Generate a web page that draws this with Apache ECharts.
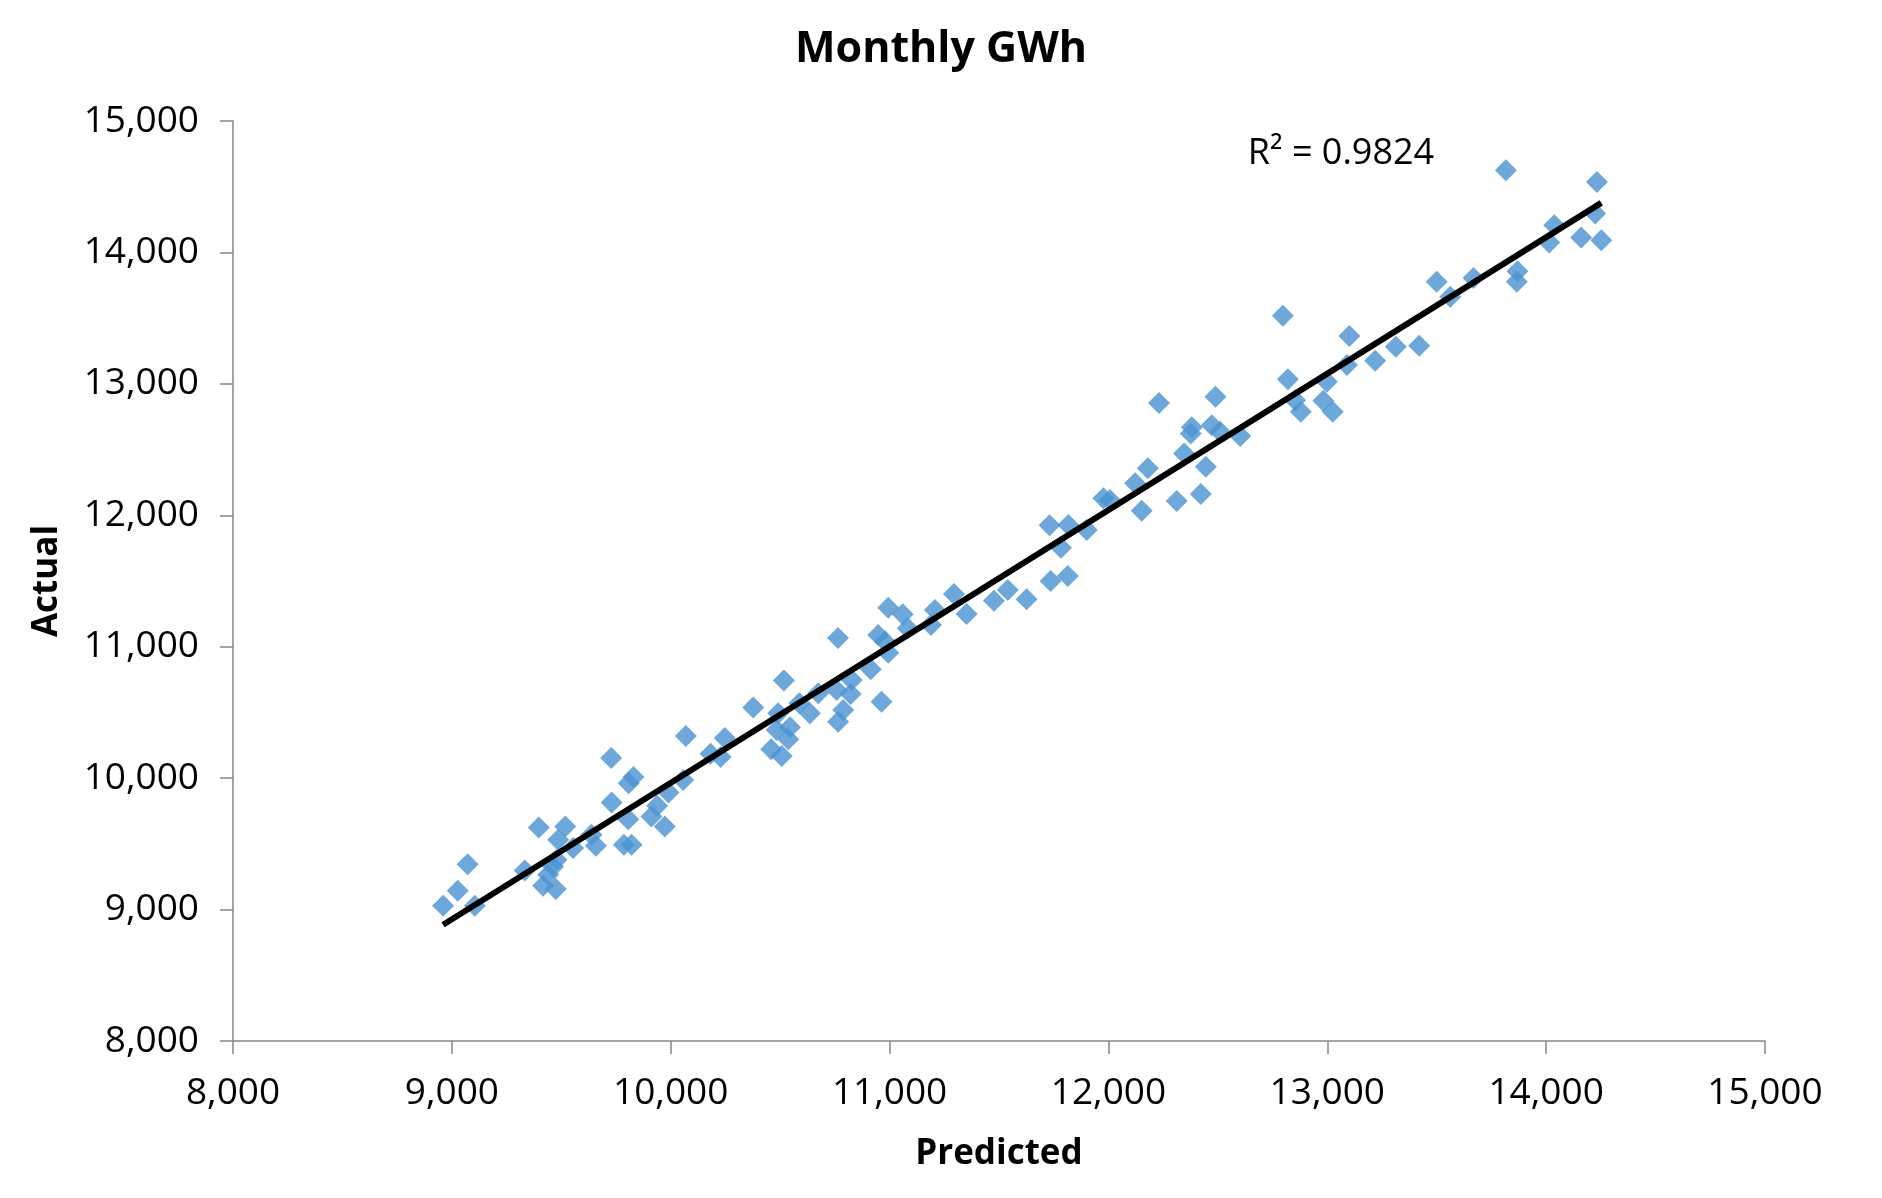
<!DOCTYPE html>
<html>
<head>
<meta charset="utf-8">
<script src="https://cdn.jsdelivr.net/npm/echarts@6/dist/echarts.min.js"></script>
<style>html,body{margin:0;padding:0;background:#fff;}#c{width:1882px;height:1198px;}</style>
</head>
<body>
<div id="c"></div>
<script>
const predicted = [8960,9027,9072,9105,9333,9397,9417,9440,9463,9478,9475,9486,9518,9554,9638,9658,9728,9730,9786,9806,9808,9821,9830,9912,9938,9973,9990,10057,10069,10182,10228,10247,10377,10459,10484,10491,10507,10517,10537,10545,10588,10636,10674,10758,10765,10764,10788,10822,10827,10914,10948,10963,10979,10994,10994,11060,11083,11189,11207,11294,11352,11477,11540,11626,11736,11731,11783,11814,11817,11901,11977,12007,12122,12152,12180,12231,12312,12346,12376,12381,12422,12445,12472,12489,12510,12602,12797,12820,12853,12879,12982,12998,13025,13090,13101,13219,13313,13420,13500,13562,13668,13816,13866,13869,14014,14037,14160,14224,14232,14252];
const actual = [9030,9143,9344,9030,9297,9624,9181,9265,9328,9379,9156,9531,9632,9468,9569,9485,10154,9814,9493,9688,9962,9493,10008,9708,9789,9632,9890,9985,10321,10185,10160,10305,10537,10220,10367,10494,10169,10742,10296,10388,10570,10494,10646,10671,10430,11067,10519,10641,10747,10829,11090,10582,11039,10955,11297,11247,11140,11166,11280,11401,11249,11350,11432,11361,11500,11924,11753,11538,11926,11888,12129,12116,12243,12035,12357,12855,12108,12471,12623,12669,12162,12369,12686,12901,12635,12603,13518,13036,12876,12787,12871,13016,12787,13143,13365,13175,13282,13289,13776,13662,13806,14625,13776,13857,14075,14207,14114,14296,14536,14093];
const trendX = [8960, 14252];
const trendY = [8884, 14377];
const axisTicks = [8000, 9000, 10000, 11000, 12000, 13000, 14000, 15000];
const titleText = 'Monthly GWh';
const r2Text = 'R\u00B2 = 0.9824';

const points = predicted.map((x, i) => [x, actual[i]]);
const trend = trendX.map((x, i) => [x, trendY[i]]);
const fmt = v => v.toLocaleString('en-US');
const FONT = '"Open Sans", "Liberation Sans", sans-serif';
const axisCommon = {
  type: 'value', min: axisTicks[0], max: axisTicks[axisTicks.length - 1], interval: 1000,
  splitLine: { show: false },
  axisLine: { show: true, lineStyle: { color: '#868686', width: 1.5 } },
  axisTick: { show: true, inside: false, length: 13, lineStyle: { color: '#868686', width: 1.5 } },
  axisLabel: { formatter: fmt, color: '#000', fontSize: 37, fontFamily: FONT },
  nameLocation: 'middle',
  nameTextStyle: { color: '#000', fontSize: 35, fontWeight: 'bold', fontFamily: FONT }
};
const chart = echarts.init(document.getElementById('c'));
chart.setOption({
  animation: false,
  backgroundColor: '#fff',
  title: { text: titleText, left: 'center', top: 23, textStyle: { fontSize: 43, fontWeight: 'bold', color: '#000', fontFamily: FONT } },
  grid: { left: 233, right: 117, top: 121, bottom: 157, containLabel: false },
  xAxis: Object.assign({}, axisCommon, { name: 'Predicted', nameGap: 96, axisLabel: Object.assign({}, axisCommon.axisLabel, { margin: 34 }) }),
  yAxis: Object.assign({}, axisCommon, { name: 'Actual', nameGap: 168, nameRotate: 90, axisLabel: Object.assign({}, axisCommon.axisLabel, { margin: 34 }) }),
  series: [
    { type: 'scatter', data: points, symbol: 'diamond', symbolSize: 22, itemStyle: { color: '#4A92D2' }, z: 2 },
    { type: 'line', data: trend, symbol: 'none', lineStyle: { color: '#000', width: 6 }, z: 3 }
  ],
  graphic: [
    { type: 'text', x: 1341, y: 154, style: { text: r2Text, fontSize: 36, fontFamily: FONT, fill: '#000', textAlign: 'center', textVerticalAlign: 'middle' } }
  ]
});
</script>
</body>
</html>
